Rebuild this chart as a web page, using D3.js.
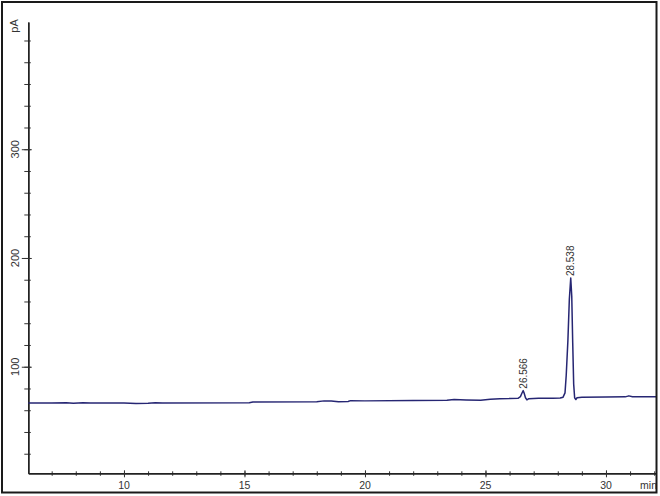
<!DOCTYPE html>
<html>
<head>
<meta charset="utf-8">
<script src="https://cdn.jsdelivr.net/npm/d3@7"></script>
<style>
  body { margin: 0; background: #fff; }
  svg { display: block; }
  text { font-family: "Liberation Sans", Arial, sans-serif; fill: #333; }
</style>
</head>
<body>
<svg id="chart" width="660" height="496"></svg>
<script>
// trace (min, pA)
const timeMin = [6.03, 7.0, 7.6, 7.9, 8.3, 8.6, 10.0, 10.5, 11.0, 11.3, 11.6, 15.2, 15.35,
  18.0, 18.3, 18.6, 18.9, 19.3, 19.4, 20.0, 22.0, 23.4, 23.7, 24.2, 24.8, 25.2, 25.6, 26.0,
  26.35, 26.45, 26.53, 26.566, 26.6, 26.66, 26.72, 26.8, 27.2, 27.8, 28.1, 28.22, 28.3,
  28.35, 28.42, 28.48, 28.538, 28.58, 28.62, 28.66, 28.7, 28.75, 28.8, 29.0, 30.0, 30.8,
  30.95, 31.1, 32.08];
const signalPA = [66.6, 66.6, 66.9, 66.4, 66.9, 66.6, 66.6, 66.3, 66.5, 66.9, 66.6, 66.8, 67.6,
  67.9, 68.6, 68.4, 67.8, 68.0, 68.8, 68.6, 68.9, 69.1, 69.8, 69.4, 69.2, 70.0, 70.6, 70.7,
  71.0, 72.5, 76.5, 78.0, 76.0, 71.5, 69.5, 70.6, 70.9, 71.0, 71.2, 72.0, 76.0,
  92.0, 124.0, 162.0, 181.5, 165.0, 122.0, 84.0, 71.5, 69.8, 71.5, 72.0, 72.2, 72.3,
  73.2, 72.4, 72.4];

const peakTimes = [26.566, 28.538];
const peakLabels = ["26.566", "28.538"];

const xMajorTicks = [10, 15, 20, 25, 30];
const xMinorTicks = d3.range(7, 33, 1);
const yMajorTicks = [100, 200, 300];
const yMinorTicks = d3.range(20, 420, 20);

const svg = d3.select("#chart");

var x = d3.scaleLinear().domain([6.03, 32.08]).range([28.3, 656.1]);
var y = d3.scaleLinear().domain([2, 417]).range([473.3, 22]);

// x axis: minor ticks cross the line, majors a bit longer
var xMinor = svg.append("g")
  .attr("transform", "translate(0," + y(2) + ")")
  .call(d3.axisBottom(x).tickValues(xMinorTicks).tickFormat("").tickSizeOuter(0));
xMinor.selectAll(".tick line").attr("y1", -2).attr("y2", 2.5);
var xMajor = svg.append("g")
  .attr("transform", "translate(0," + y(2) + ")")
  .call(d3.axisBottom(x).tickValues(xMajorTicks).tickFormat("").tickSizeOuter(0));
xMajor.selectAll(".tick line").attr("y1", -3).attr("y2", 4);

svg.append("g").selectAll("text")
  .data(xMajorTicks)
  .join("text")
  .attr("x", d => x(d))
  .attr("y", 489)
  .attr("text-anchor", "middle")
  .style("font-size", "10.5px")
  .text(d => d);

// y axis
var yMinor = svg.append("g")
  .attr("transform", "translate(" + x(6.03) + ",0)")
  .call(d3.axisLeft(y).tickValues(yMinorTicks).tickFormat("").tickSizeOuter(0));
yMinor.selectAll(".tick line").attr("x1", -4).attr("x2", 2.5);
var yMajor = svg.append("g")
  .attr("transform", "translate(" + x(6.03) + ",0)")
  .call(d3.axisLeft(y).tickValues(yMajorTicks).tickFormat("").tickSizeOuter(0));
yMajor.selectAll(".tick line").attr("x1", -6.5).attr("x2", 3.5);
svg.selectAll(".domain").attr("stroke", "#222").attr("stroke-width", 1.4);
svg.selectAll(".tick line").attr("stroke", "#333");

svg.append("g").selectAll("text")
  .data(yMajorTicks)
  .join("text")
  .attr("transform", d => "translate(15," + y(d) + ") rotate(-90)")
  .attr("dy", "0.35em")
  .attr("text-anchor", "middle")
  .style("font-size", "11px")
  .text(d => d);

svg.append("text")
  .attr("transform", "translate(14,26) rotate(-90)")
  .attr("dy", "0.35em")
  .attr("text-anchor", "middle")
  .style("font-size", "11px")
  .text("pA");

svg.append("text")
  .attr("x", 657)
  .attr("y", 489)
  .attr("text-anchor", "end")
  .style("font-size", "10.5px")
  .text("min");

// signal trace
var line = d3.line()
  .x((d, i) => x(timeMin[i]))
  .y(d => y(d));
svg.append("path")
  .datum(signalPA)
  .attr("d", line)
  .attr("fill", "none")
  .attr("stroke", "#262673")
  .attr("stroke-width", 1.5)
  .attr("stroke-linejoin", "round");

// retention time labels above peaks
svg.append("g").selectAll("text")
  .data(peakTimes)
  .join("text")
  .attr("transform", d => {
    var h = signalPA[timeMin.indexOf(d)];
    return "translate(" + x(d) + "," + (y(h) - 2) + ") rotate(-90)";
  })
  .attr("dy", "0.35em")
  .attr("text-anchor", "start")
  .style("font-size", "10px")
  .text((d, i) => peakLabels[i]);

// outer frame
svg.append("rect")
  .attr("x", 2).attr("y", 2)
  .attr("width", 654.5).attr("height", 490.5)
  .attr("fill", "none")
  .attr("stroke", "#1a1a1a")
  .attr("stroke-width", 2);
</script>
</body>
</html>
